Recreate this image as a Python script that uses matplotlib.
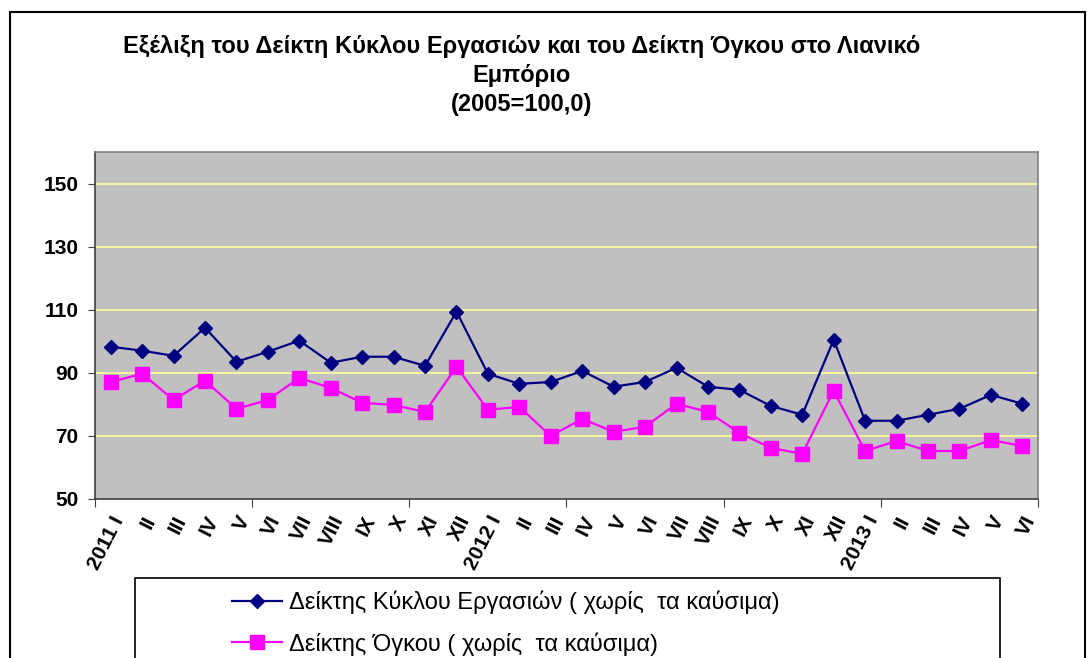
import matplotlib
matplotlib.use("Agg")
import matplotlib.pyplot as plt
from matplotlib.patches import Rectangle
import numpy as np

plt.rcParams['font.family'] = ['Liberation Sans', 'DejaVu Sans']

# months 2011 I .. 2013 VI
months = ["I", "II", "III", "IV", "V", "VI", "VII", "VIII", "IX", "X", "XI", "XII"]
labels = (["2011 " + months[0]] + months[1:] +
          ["2012 " + months[0]] + months[1:] +
          ["2013 " + months[0]] + months[1:6])

turnover = [98.3, 97.0, 95.4, 104.3, 93.5, 96.7, 100.2, 93.2, 95.1, 95.1, 92.2, 109.4,
            89.7, 86.5, 87.1, 90.6, 85.6, 87.1, 91.6, 85.6, 84.6, 79.5, 76.7, 100.5,
            74.8, 74.8, 76.7, 78.6, 83.0, 80.2]
volume = [87.1, 89.7, 81.4, 87.5, 78.6, 81.4, 88.4, 85.2, 80.5, 79.8, 77.6, 91.9,
          78.3, 79.2, 70.0, 75.4, 71.3, 72.9, 80.2, 77.6, 71.0, 66.2, 64.3, 84.3,
          65.2, 68.4, 65.2, 65.2, 68.7, 66.8]
yticks = [50, 70, 90, 110, 130, 150]

W, H = 1087, 658
fig = plt.figure(figsize=(W / 100, H / 100), dpi=100)
ax = fig.add_axes([95 / W, 1 - 499 / H, (1038 - 95) / W, (499 - 152) / H])
ax.set_facecolor('#C0C0C0')

x = np.arange(len(labels))
ax.plot(x, turnover, color='#000080', lw=1.6, marker='D', ms=7,
        label='Δείκτης Κύκλου Εργασιών ( χωρίς  τα καύσιμα)', zorder=3)
ax.plot(x, volume, color='#FF00FF', lw=1.6, marker='s', ms=10.5,
        label='Δείκτης Όγκου ( χωρίς  τα καύσιμα)', zorder=3)

ax.set_xlim(-0.5, len(labels) - 0.5)
ax.set_ylim(50, 160)
ax.set_yticks(yticks)
ax.set_yticklabels([str(v) for v in yticks], fontsize=15, fontweight='bold')
for v in yticks[1:]:
    ax.axhline(v, color='#FFFF99', lw=1.2, zorder=1)

# tick marks at every 5th category boundary, labels at category centres
ax.set_xticks(np.arange(-0.5, len(labels), 5))
ax.set_xticklabels([])
ax.set_xticks(x, minor=True)
ax.set_xticklabels(labels, minor=True, rotation=63, ha='right',
                   rotation_mode='anchor', fontsize=15, fontweight='bold')
ax.tick_params(axis='x', which='minor', length=0, pad=10)
ax.tick_params(axis='x', which='major', length=6, color='#404040')
ax.tick_params(axis='y', length=5, color='#404040', pad=7)

for s in ['top', 'right']:
    ax.spines[s].set_color('#808080')
for s in ['left', 'bottom']:
    ax.spines[s].set_color('#404040')
for s in ax.spines.values():
    s.set_linewidth(1.2)

fig.text(522 / W, 1 - 35 / H,
         'Εξέλιξη του Δείκτη Κύκλου Εργασιών και του Δείκτη Όγκου στο Λιανικό\nΕμπόριο\n(2005=100,0)',
         ha='center', va='top', fontsize=17, fontweight='bold', linespacing=1.32,
         transform=fig.transFigure)

# outer chart frame (cut off at the bottom)
fig.patches.append(Rectangle((10 / W, -0.2), (1085 - 10) / W, 1.2 - 12 / H,
                             transform=fig.transFigure, fill=False, ec='black', lw=1.5))
# legend box
fig.patches.append(Rectangle((135 / W, -0.2), (1000 - 135) / W, 0.2 + 1 - 578 / H,
                             transform=fig.transFigure, fill=False, ec='black', lw=1.2))
fig.legend(loc='upper left', bbox_to_anchor=(232 / W, 1 - 591 / H), frameon=False,
           fontsize=17, handlelength=2.1, handletextpad=0.3, labelspacing=0.75,
           borderaxespad=0, borderpad=0)

fig.savefig('out.png', dpi=100)
